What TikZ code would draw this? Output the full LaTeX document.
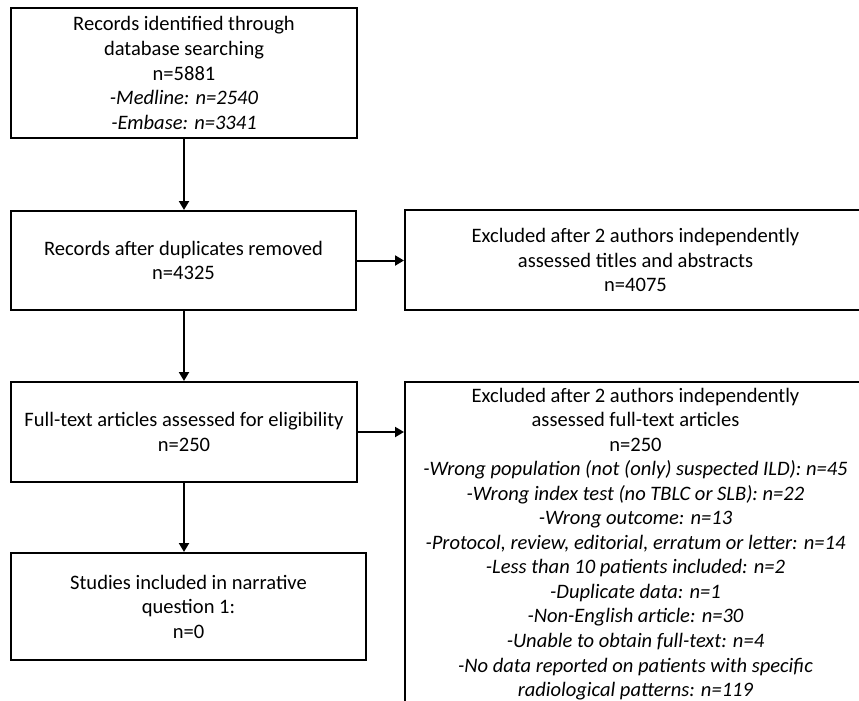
\documentclass[tikz,border=0pt]{standalone}
\usepackage{fontspec}
\setmainfont{Carlito}
\usetikzlibrary{arrows.meta}

\begin{document}
\begin{tikzpicture}[x=0.75pt,y=0.75pt,yscale=-1,xscale=1,
  flowbox/.style={draw, line width=1.5pt, inner sep=0pt, align=center,
    font=\fontsize{15.4}{18.4}\selectfont},
  flowarrow/.style={line width=1.5pt, -{Triangle[length=6.75pt,width=7.5pt]}}]
%set diagram to the page size
\clip (0,0) rectangle (859,700);

%Shape: Rectangle 
\node [flowbox, minimum width=259.5pt, minimum height=97.5pt] (ident) at (184,73)
  {Records identified through\\ database searching\\ n=5881\\ \textit{-Medline: n=2540}\\ \textit{-Embase: n=3341}};
%Shape: Rectangle 
\node [flowbox, minimum width=258.75pt, minimum height=74.25pt] (dedup) at (183.5,260.5)
  {Records after duplicates removed\\ n=4325};
%Shape: Rectangle 
\node [flowbox, minimum width=345.75pt, minimum height=75pt] (exclabs) at (635.5,260)
  {Excluded after 2 authors independently\\ assessed titles and abstracts\\ n=4075};
%Shape: Rectangle 
\node [flowbox, minimum width=259.5pt, minimum height=75pt] (fulltext) at (184,432)
  {Full-text articles assessed for eligibility\\ n=250};
%Shape: Rectangle 
\node [flowbox, minimum width=345.75pt, minimum height=243pt] (exclfull) at (635.5,544)
  {Excluded after 2 authors independently\\ assessed full-text articles\\ n=250\\
   \textit{-Wrong population (not (only) suspected ILD): n=45}\\
   \textit{-Wrong index test (no TBLC or SLB): n=22}\\
   \textit{-Wrong outcome: n=13}\\
   \textit{-Protocol, review, editorial, erratum or letter: n=14}\\
   \textit{-Less than 10 patients included: n=2}\\
   \textit{-Duplicate data: n=1}\\
   \textit{-Non-English article: n=30}\\
   \textit{-Unable to obtain full-text: n=4}\\
   \textit{-No data reported on patients with specific}\\
   \textit{radiological patterns: n=119}};
%Shape: Rectangle 
\node [flowbox, minimum width=266.25pt, minimum height=80.25pt] (included) at (188.5,606.5)
  {Studies included in narrative\\ question 1:\\ n=0};

%Straight Lines 
\draw [flowarrow] (ident.south) -- (dedup.north -| ident.south);
\draw [flowarrow] (dedup.east) -- (exclabs.west |- dedup.east);
\draw [flowarrow] (dedup.south -| ident.south) -- (fulltext.north);
\draw [flowarrow] (fulltext.east) -- (exclfull.west |- fulltext.east);
\draw [flowarrow] (fulltext.south) -- (included.north -| fulltext.south);

\end{tikzpicture}
\end{document}
